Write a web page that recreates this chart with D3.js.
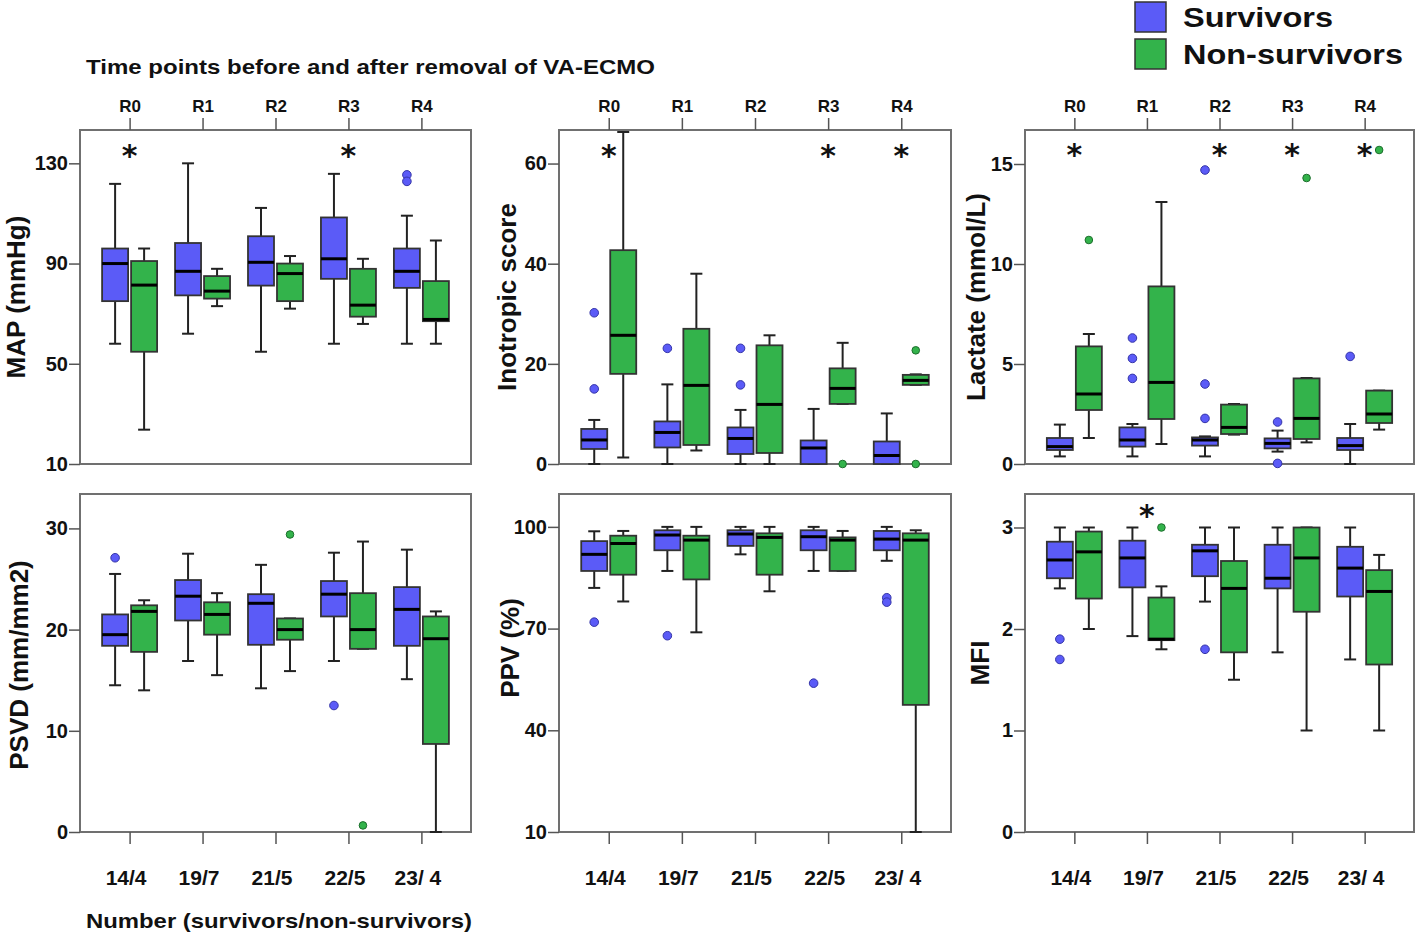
<!DOCTYPE html>
<html>
<head>
<meta charset="utf-8">
<script src="https://cdn.jsdelivr.net/npm/d3@7"></script>
<style>
body { margin: 0; background: #fff; }
svg text { font-family: "Liberation Sans", Arial, sans-serif; font-weight: bold; fill: #111; }
</style>
</head>
<body>
<svg width="1418" height="944"></svg>
<script>
// time points and group sizes
const groups = ["R0", "R1", "R2", "R3", "R4"];
const counts = ["14/4", "19/7", "21/5", "22/5", "23/ 4"];
const seriesNames = ["Survivors", "Non-survivors"];

// each box: [whisker low, q1, median, q3, whisker high]
const mapSurv = [[58, 75, 90, 96, 121.8], [62, 77.3, 86.9, 98.2, 130], [54.8, 81.2, 90.5, 100.9, 112.2], [58, 83.9, 91.9, 108.4, 125.8], [58, 80.3, 86.9, 96, 109.1]];
const mapNon = [[23.7, 54.8, 81.4, 91, 96], [73, 76, 79, 85, 87.9], [72, 75, 86, 90, 93], [65.9, 68.8, 73.4, 87.9, 91.9], [58, 67, 67.7, 83, 99.2]];
const mapSurvOut = [[], [], [], [], [125.4, 122.8]];
const mapNonOut = [[], [], [], [], []];
const mapStars = ["R0", "R3"];

const inoSurv = [[0, 3, 4.8, 7, 8.8], [0, 3.3, 6.3, 8.5, 15.9], [0, 2, 5.1, 7.3, 10.8], [0, 0, 3.2, 4.7, 11], [0, 0, 1.7, 4.5, 10.1]];
const inoNon = [[1.3, 18, 25.7, 42.7, 66.3], [2.7, 3.8, 15.7, 27, 38], [0, 2.2, 11.9, 23.7, 25.7], [12, 12, 15.1, 19.1, 24.2], [15.8, 15.8, 16.7, 17.8, 17.9]];
const inoSurvOut = [[30.2, 15], [23.1], [23.1, 15.8], [], []];
const inoNonOut = [[], [], [], [0], [22.7, 0]];
const inoStars = ["R0", "R3", "R4"];

const lacSurv = [[0.38, 0.7, 0.87, 1.3, 1.97], [0.38, 0.87, 1.2, 1.83, 2.0], [0.38, 0.92, 1.2, 1.33, 1.38], [0.62, 0.78, 1.03, 1.28, 1.67], [0, 0.7, 0.92, 1.3, 2.0]];
const lacNon = [[1.3, 2.7, 3.5, 5.88, 6.5], [1.0, 2.25, 4.08, 8.88, 13.1], [1.47, 1.5, 1.83, 2.97, 3.0], [1.08, 1.25, 2.28, 4.28, 4.3], [1.72, 2.05, 2.5, 3.67, 3.67]];
const lacSurvOut = [[], [6.3, 5.28, 4.28], [14.7, 4.0, 2.28], [2.1, 0.03], [5.38]];
const lacNonOut = [[11.2], [], [], [14.3], [15.7]];
const lacStars = ["R0", "R2", "R3", "R4"];

const psvdSurv = [[14.5, 18.4, 19.5, 21.5, 25.5], [16.9, 20.9, 23.3, 24.9, 27.5], [14.2, 18.5, 22.6, 23.5, 26.4], [16.9, 21.3, 23.5, 24.8, 27.6], [15.1, 18.4, 22.0, 24.2, 27.9]];
const psvdNon = [[14.0, 17.8, 21.8, 22.4, 22.9], [15.5, 19.5, 21.5, 22.7, 23.6], [15.9, 19.0, 20.0, 21.1, 21.1], [18.1, 18.1, 20.0, 23.6, 28.7], [0, 8.7, 19.1, 21.3, 21.8]];
const psvdSurvOut = [[27.1], [], [], [12.5], []];
const psvdNonOut = [[], [], [29.4], [0.65], []];

const ppvSurv = [[82, 87, 91.9, 95.8, 98.7], [87, 93.1, 97.6, 99, 100], [91.9, 94.4, 97.9, 99, 100], [87, 93.1, 97.1, 99, 100], [90, 93.1, 96.4, 98.8, 100]];
const ppvNon = [[78, 85.9, 95.1, 97.4, 98.8], [68.9, 84.5, 96.1, 97.4, 100], [81, 85.9, 96.9, 98.1, 100], [87, 87, 96.1, 96.9, 98.8], [10, 47.5, 96.1, 98.1, 99]];
const ppvSurvOut = [[71.9], [67.9], [], [53.9], [79.1, 77.8]];
const ppvNonOut = [[], [], [], [], []];

const mfiSurv = [[2.4, 2.5, 2.68, 2.86, 3.0], [1.93, 2.41, 2.7, 2.87, 3.0], [2.27, 2.52, 2.77, 2.83, 3.0], [1.77, 2.4, 2.5, 2.83, 3.0], [1.7, 2.32, 2.6, 2.81, 3.0]];
const mfiNon = [[2.0, 2.3, 2.76, 2.96, 3.0], [1.8, 1.89, 1.9, 2.31, 2.42], [1.5, 1.77, 2.4, 2.67, 3.0], [1.0, 2.17, 2.7, 3.0, 3.0], [1.0, 1.65, 2.37, 2.58, 2.73]];
const mfiSurvOut = [[1.9, 1.7], [], [1.8], [], []];
const mfiNonOut = [[], [3.0], [], [], []];
const mfiStars = ["R1"];

const fills = ["#5b5bf7", "#33b34b"];
const dotStroke = ["#3535a8", "#1c6e2c"];

const cols = [[80, 471], [559, 951], [1025, 1414]];
const rows = [[130, 464], [494, 832]];

const panels = [
    {title: "MAP (mmHg)", row: 0, col: 0, domain: [10, 143.3], ticks: [10, 50, 90, 130], data: [mapSurv, mapNon], out: [mapSurvOut, mapNonOut], stars: mapStars, starV: 134.6, tx: 64, ty: 0},
    {title: "Inotropic score", row: 0, col: 1, domain: [0, 66.7], ticks: [0, 20, 40, 60], data: [inoSurv, inoNon], out: [inoSurvOut, inoNonOut], stars: inoStars, starV: 62.3, tx: 52, ty: 0},
    {title: "Lactate (mmol/L)", row: 0, col: 2, domain: [0, 16.7], ticks: [0, 5, 10, 15], data: [lacSurv, lacNon], out: [lacSurvOut, lacNonOut], stars: lacStars, starV: 15.67, tx: 49, ty: 0},
    {title: "PSVD (mm/mm2)", row: 1, col: 0, domain: [0, 33.4], ticks: [0, 10, 20, 30], data: [psvdSurv, psvdNon], out: [psvdSurvOut, psvdNonOut], stars: [], starV: 0, tx: 61, ty: 2},
    {title: "PPV (%)", row: 1, col: 1, domain: [10, 109.7], ticks: [10, 40, 70, 100], data: [ppvSurv, ppvNon], out: [ppvSurvOut, ppvNonOut], stars: [], starV: 0, tx: 49, ty: -15},
    {title: "MFI", row: 1, col: 2, domain: [0, 3.33], ticks: [0, 1, 2, 3], data: [mfiSurv, mfiNon], out: [mfiSurvOut, mfiNonOut], stars: mfiStars, starV: 3.15, tx: 45, ty: 0}
];

const svg = d3.select("svg");

function drawPanel(p) {
    const [x0, x1] = cols[p.col];
    const [y0, y1] = rows[p.row];
    const x = d3.scalePoint().domain(groups).range([x0, x1]).padding(0.68);
    const y = d3.scaleLinear().domain(p.domain).range([y1, y0]);
    const g = svg.append("g");

    g.append("rect")
        .attr("x", x0).attr("y", y0)
        .attr("width", x1 - x0).attr("height", y1 - y0)
        .attr("fill", "none")
        .attr("stroke", "#707070")
        .attr("stroke-width", 2);

    const ya = g.append("g")
        .attr("transform", `translate(${x0},0)`)
        .call(d3.axisLeft(y).tickValues(p.ticks).tickFormat(d3.format("d")).tickSize(11).tickPadding(1))
        .attr("font-size", 20);
    ya.select(".domain").remove();
    ya.selectAll("line").attr("stroke", "#555").attr("stroke-width", 1.5);

    if (p.row === 0) {
        const xa = g.append("g")
            .attr("transform", `translate(0,${y0})`)
            .call(d3.axisTop(x).tickSize(12).tickPadding(6))
            .attr("font-size", 17);
        xa.select(".domain").remove();
        xa.selectAll("line").attr("stroke", "#555").attr("stroke-width", 1.5);
    } else {
        const xa = g.append("g")
            .attr("transform", `translate(0,${y1})`)
            .call(d3.axisBottom(x).tickSize(12).tickPadding(26).tickFormat((d, i) => counts[i]))
            .attr("font-size", 21);
        xa.select(".domain").remove();
        xa.selectAll("line").attr("stroke", "#555").attr("stroke-width", 1.5);
        xa.selectAll("text").attr("dx", -4);
    }

    // boxes
    const bw = 26, cap = 12;
    p.data.forEach((series, s) => {
        const off = s === 0 ? -14.5 : 14.5;
        const box = g.append("g")
            .selectAll("g")
            .data(series)
            .join("g")
            .attr("transform", (d, i) => `translate(${x(groups[i]) + off},0)`);

        box.append("line")
            .attr("y1", d => y(d[0])).attr("y2", d => y(d[4]))
            .attr("stroke", "#222").attr("stroke-width", 2);
        box.append("line")
            .attr("x1", -cap / 2).attr("x2", cap / 2)
            .attr("y1", d => y(d[4])).attr("y2", d => y(d[4]))
            .attr("stroke", "#222").attr("stroke-width", 2);
        box.append("line")
            .attr("x1", -cap / 2).attr("x2", cap / 2)
            .attr("y1", d => y(d[0])).attr("y2", d => y(d[0]))
            .attr("stroke", "#222").attr("stroke-width", 2);
        box.append("rect")
            .attr("x", -bw / 2).attr("width", bw)
            .attr("y", d => y(d[3]))
            .attr("height", d => Math.max(1, y(d[1]) - y(d[3])))
            .attr("fill", fills[s])
            .attr("stroke", "#333").attr("stroke-width", 1.8);
        box.append("line")
            .attr("x1", -bw / 2).attr("x2", bw / 2)
            .attr("y1", d => y(d[2])).attr("y2", d => y(d[2]))
            .attr("stroke", "#000").attr("stroke-width", 3);

        const pts = [];
        p.out[s].forEach((vals, i) => vals.forEach(v => pts.push([groups[i], v])));
        g.append("g")
            .selectAll("circle")
            .data(pts)
            .join("circle")
            .attr("cx", d => x(d[0]) + off)
            .attr("cy", d => y(d[1]))
            .attr("r", s === 0 ? 4.3 : 3.8)
            .attr("fill", fills[s])
            .attr("stroke", dotStroke[s])
            .attr("stroke-width", 1);
    });

    g.append("g")
        .selectAll("text")
        .data(p.stars)
        .join("text")
        .attr("x", d => x(d))
        .attr("y", y(p.starV) + 14)
        .attr("text-anchor", "middle")
        .style("font-family", "'DejaVu Sans', sans-serif")
        .attr("font-size", 30)
        .text("*");

    g.append("text")
        .attr("transform", `translate(${x0 - p.tx},${(y0 + y1) / 2 + p.ty}) rotate(-90)`)
        .attr("text-anchor", "middle")
        .attr("dominant-baseline", "central")
        .attr("font-size", 26)
        .text(p.title);
}

panels.forEach(drawPanel);

svg.append("text")
    .attr("x", 86).attr("y", 74)
    .attr("font-size", 21)
    .attr("textLength", 569).attr("lengthAdjust", "spacingAndGlyphs")
    .text("Time points before and after removal of VA-ECMO");

svg.append("text")
    .attr("x", 86).attr("y", 928)
    .attr("font-size", 21)
    .attr("textLength", 386).attr("lengthAdjust", "spacingAndGlyphs")
    .text("Number (survivors/non-survivors)");

// legend
const legend = svg.append("g")
    .selectAll("g")
    .data(seriesNames)
    .join("g")
    .attr("transform", (d, i) => `translate(1135,${2 + i * 37})`);
legend.append("rect")
    .attr("width", 31).attr("height", 30)
    .attr("fill", (d, i) => fills[i])
    .attr("stroke", "#333").attr("stroke-width", 1.5);
legend.append("text")
    .attr("x", 48).attr("y", 25)
    .attr("font-size", 28)
    .attr("textLength", (d, i) => i === 0 ? 150 : 220)
    .attr("lengthAdjust", "spacingAndGlyphs")
    .text(d => d);
</script>
</body>
</html>
